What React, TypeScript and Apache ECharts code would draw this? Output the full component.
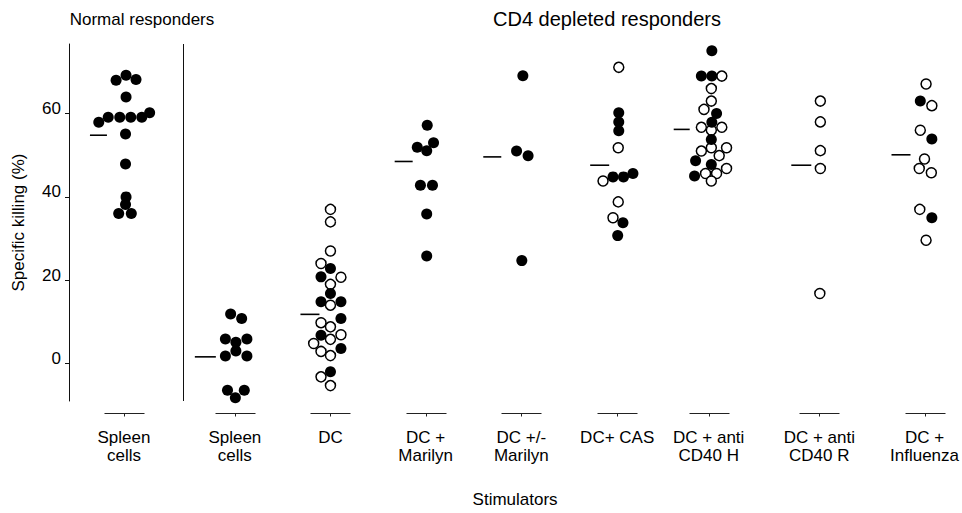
import React, { useEffect, useRef } from "react";
import * as echarts from "echarts";

// ---- Data ----
const CATEGORY_LABELS = [
  "Spleen\ncells",
  "Spleen\ncells",
  "DC",
  "DC +\nMarilyn",
  "DC +/-\nMarilyn",
  "DC+ CAS",
  "DC + anti\nCD40 H",
  "DC + anti\nCD40 R",
  "DC +\nInfluenza",
];

const GROUP_TITLES = ["Normal responders", "CD4 depleted responders"];
const Y_TICKS = [0, 20, 40, 60];

// Mean (horizontal dash) per stimulator
const MEAN_VALUES = [54.8, 1.6, 11.8, 48.5, 49.6, 47.6, 56.2, 47.6, 50.1];

// Filled circles: specific killing (%)
const FILLED_VALUES: number[][] = [
  [68.0, 69.2, 68.2, 64.0, 57.9, 59.1, 59.1, 59.1, 59.1, 60.2, 55.1, 47.9, 40.0, 38.2, 36.0, 36.0],
  [11.9, 10.8, 5.9, 5.1, 5.9, 1.8, 3.0, 1.8, -6.4, -6.4, -8.2],
  [22.8, 20.8, 16.8, 14.8, 14.8, 10.8, 6.8, 3.6, -2.0],
  [57.2, 51.9, 53.0, 51.1, 42.8, 42.8, 35.9, 25.8],
  [69.1, 51.0, 49.9, 24.7],
  [60.2, 58.0, 55.9, 44.8, 44.8, 45.6, 33.8, 30.7],
  [75.1, 69.0, 69.0, 60.0, 57.9, 53.8, 48.7, 47.8, 45.0],
  [],
  [63.0, 53.9, 35.0],
];
// Beeswarm column of each filled circle (in dot widths)
const FILLED_COLS: number[][] = [
  [-0.75, 0.2, 1.15, 0.2, -2.4, -1.5, -0.4, 0.65, 1.7, 2.45, 0.15, 0.15, 0.2, 0.15, -0.5, 0.7],
  [-0.4, 0.65, -0.9, 0.1, 1.15, -0.9, 0.1, 1.15, -0.7, 0.9, 0.05],
  [0, -0.9, 0, -0.9, 1.0, 1.0, -0.9, 1.0, 0],
  [0.15, -0.8, 0.75, 0.1, -0.5, 0.65, 0.1, 0.1],
  [0.15, -0.45, 0.65, 0.05],
  [0.15, 0.15, 0.15, -0.4, 0.6, 1.5, 0.55, 0.05],
  [0.3, -0.7, 0.3, 0.75, 0.3, 0.25, -1.25, 0.25, -1.35],
  [],
  [-0.4, 0.7, 0.7],
];

// Open circles
const OPEN_VALUES: number[][] = [
  [],
  [],
  [37.0, 34.0, 27.0, 24.0, 20.7, 19.0, 14.0, 9.8, 8.8, 6.9, 5.8, 4.8, 2.9, 1.9, -3.2, -5.3],
  [],
  [],
  [71.1, 51.8, 43.8, 38.8, 35.0],
  [69.0, 66.0, 63.0, 61.0, 56.7, 56.0, 56.7, 51.0, 51.8, 51.8, 49.9, 46.8, 45.6, 45.6, 43.8],
  [63.0, 58.0, 51.1, 46.8, 16.8],
  [67.1, 61.9, 56.0, 49.1, 46.8, 45.8, 37.0, 29.6],
];
const OPEN_COLS: number[][] = [
  [],
  [],
  [0, 0, 0, -0.9, 1.0, 0, 0, -0.9, 0, 1.0, 0, -1.6, -0.9, 0, -0.9, 0],
  [],
  [],
  [0.15, 0.1, -1.35, 0.1, -0.4],
  [1.25, 0.25, 0.25, -0.45, -0.7, 0.25, 1.25, -0.7, 0.25, 1.7, 1.0, 1.7, -0.3, 0.75, 0.25],
  [0.1, 0.1, 0.1, 0.1, 0.05],
  [0.15, 0.7, -0.4, 0, -0.5, 0.65, -0.45, 0.15],
];

// ---- Layout (pixel-based x scale: x value == page x) ----
const W = 962;
const H = 513;
const GRID_LEFT = 69;
const GRID_TOP = 44;
const GRID_BOTTOM = 112;
const CAT_X = [124, 235, 330.7, 426, 521.7, 617.7, 709.3, 820, 925.3];
const SEPARATOR_X = 183.7;
const COL_STEP = 10.5;
const MEAN_DASH: number[][] = [
  [-34, -17], [-40, -19], [-30, -11], [-31, -13], [-38, -20],
  [-27, -8], [-35, -19], [-28, -8], [-33, -14],
];
const Y_MIN = -9;
const Y_MAX = 76.7;
const FONT = "'Liberation Sans', Arial, Helvetica, sans-serif";

function buildPoints(values: number[][], cols: number[][]) {
  const out: number[][] = [];
  values.forEach((arr, i) => {
    arr.forEach((v, j) => {
      out.push([CAT_X[i] + cols[i][j] * COL_STEP, v]);
    });
  });
  return out;
}

export default function App() {
  const ref = useRef<HTMLDivElement>(null);

  useEffect(() => {
    if (!ref.current) return;
    const chart = echarts.init(ref.current, undefined, { renderer: "svg" });

    const option: any = {
      animation: false,
      textStyle: { fontFamily: FONT, color: "#000" },
      grid: { left: GRID_LEFT, right: 0, top: GRID_TOP, bottom: GRID_BOTTOM, containLabel: false },
      xAxis: {
        type: "value",
        min: GRID_LEFT,
        max: W,
        splitLine: { show: false },
        axisLine: { show: false },
        axisTick: { show: false },
        axisLabel: {
          customValues: CAT_X,
          formatter: (v: number) => {
            let best = 0;
            CAT_X.forEach((c, i) => {
              if (Math.abs(c - v) < Math.abs(CAT_X[best] - v)) best = i;
            });
            return CATEGORY_LABELS[best];
          },
          fontSize: 17,
          lineHeight: 18,
          margin: 27,
          color: "#000",
          fontFamily: FONT,
          hideOverlap: false,
        },
        name: "Stimulators",
        nameLocation: "middle",
        nameGap: 90,
        nameTextStyle: { fontSize: 17, color: "#000", fontFamily: FONT },
      },
      yAxis: {
        type: "value",
        min: Y_MIN,
        max: Y_MAX,
        splitLine: { show: false },
        axisLine: { show: true, lineStyle: { color: "#111", width: 1 } },
        axisTick: {
          show: true,
          customValues: Y_TICKS,
          length: 4,
          lineStyle: { color: "#111", width: 1 },
        },
        axisLabel: {
          customValues: Y_TICKS,
          fontSize: 17,
          color: "#000",
          margin: 8,
          fontFamily: FONT,
          verticalAlign: "bottom",
          lineHeight: 10,
        },
        name: "Specific killing (%)",
        nameLocation: "middle",
        nameRotate: 90,
        nameGap: 42,
        nameTextStyle: { fontSize: 17, color: "#000", fontFamily: FONT },
      },
      graphic: [
        {
          type: "text",
          x: 142,
          y: 19,
          style: {
            text: GROUP_TITLES[0],
            fontSize: 17,
            fontFamily: FONT,
            fill: "#000",
            align: "center",
            verticalAlign: "middle",
          },
        },
        {
          type: "text",
          x: 607,
          y: 19,
          style: {
            text: GROUP_TITLES[1],
            fontSize: 20,
            fontFamily: FONT,
            fill: "#000",
            align: "center",
            verticalAlign: "middle",
          },
        },
      ],
      series: [
        {
          type: "scatter",
          name: "open",
          symbol: "circle",
          symbolSize: 10,
          itemStyle: { color: "#fff", borderColor: "#000", borderWidth: 1.5, opacity: 1 },
          data: buildPoints(OPEN_VALUES, OPEN_COLS),
          z: 3,
          markLine: {
            silent: true,
            symbol: "none",
            label: { show: false },
            lineStyle: { color: "#111", width: 1, type: "solid" },
            data: [{ xAxis: SEPARATOR_X }],
          },
        },
        {
          type: "scatter",
          name: "filled",
          symbol: "circle",
          symbolSize: 11,
          itemStyle: { color: "#000", opacity: 1 },
          data: buildPoints(FILLED_VALUES, FILLED_COLS),
          z: 4,
        },
        {
          type: "custom",
          name: "means",
          clip: false,
          data: MEAN_VALUES.map((m, i) => [CAT_X[i], m, i]),
          renderItem: (params: any, api: any) => {
            const i = api.value(2);
            const c = api.coord([api.value(0), api.value(1)]);
            return {
              type: "line",
              shape: { x1: c[0] + MEAN_DASH[i][0], y1: c[1], x2: c[0] + MEAN_DASH[i][1], y2: c[1] },
              style: { stroke: "#000", lineWidth: 1.6 },
            };
          },
          z: 2,
        },
        {
          type: "custom",
          name: "baselines",
          clip: false,
          data: CAT_X.map((x, i) => [x, Y_MIN, i]),
          renderItem: (params: any, api: any) => {
            const c = api.coord([api.value(0), api.value(1)]);
            const y = Math.round(c[1] + 12) + 0.5;
            const x = Math.round(c[0]) + 0.5;
            return {
              type: "group",
              children: [
                {
                  type: "line",
                  shape: { x1: x - 20, y1: y, x2: x + 20, y2: y },
                  style: { stroke: "#222", lineWidth: 1 },
                },
                {
                  type: "line",
                  shape: { x1: x, y1: y, x2: x, y2: y + 3 },
                  style: { stroke: "#222", lineWidth: 1 },
                },
              ],
            };
          },
          z: 2,
        },
      ],
    };

    chart.setOption(option);
    return () => chart.dispose();
  }, []);

  return (
    <div
      ref={ref}
      style={{ position: "fixed", left: 0, top: 0, width: W, height: H, background: "#fff" }}
    />
  );
}
